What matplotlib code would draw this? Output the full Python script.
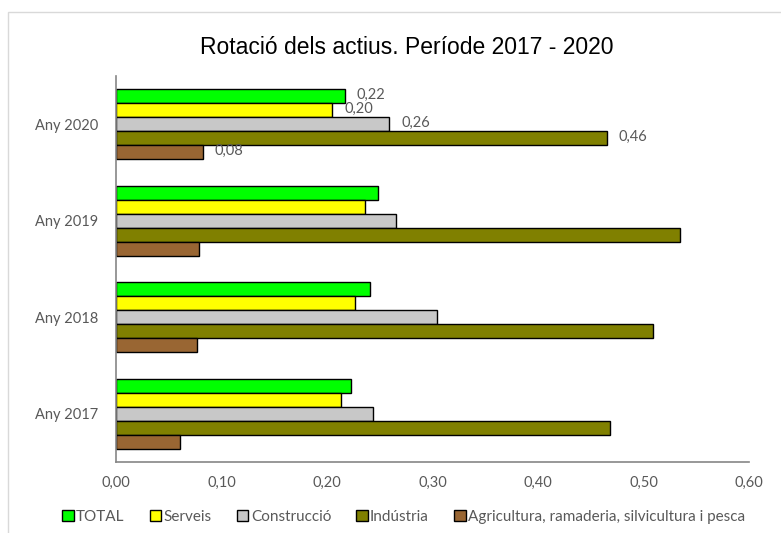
import numpy as np
import matplotlib
matplotlib.use("Agg")
from matplotlib import pyplot as plt, patches as mpatches

years = ["Any 2017", "Any 2018", "Any 2019", "Any 2020"]
series = ["TOTAL", "Serveis", "Construcció", "Indústria",
          "Agricultura, ramaderia, silvicultura i pesca"]
total = [0.223, 0.241, 0.248, 0.217]
serveis = [0.213, 0.227, 0.236, 0.205]
construccio = [0.244, 0.304, 0.265, 0.259]
industria = [0.468, 0.509, 0.535, 0.465]
agricultura = [0.061, 0.077, 0.079, 0.082]
labels_2020 = ["0,22", "0,20", "0,26", "0,46", "0,08"]
xticks = [0.0, 0.1, 0.2, 0.3, 0.4, 0.5, 0.6]

colors = ["#00FF00", "#FFFF00", "#C8C8C8", "#808000", "#996633"]
txt = "#595959"

plt.rcParams["font.family"] = ["Lato", "DejaVu Sans"]

fig = plt.figure(figsize=(7.81, 5.33), dpi=100)
# chart border
fig.patches.append(mpatches.Rectangle((8 / 781, -0.1), 1.2, 1.1 - 12 / 533,
                                      transform=fig.transFigure, fill=False,
                                      edgecolor="#D9D9D9", linewidth=1))
ax = fig.add_axes([116 / 781, 1 - 462 / 533, (749 - 116) / 781, (462 - 76) / 533])

values = [total, serveis, construccio, industria, agricultura]
h = 0.145
y = np.arange(len(years))
for k, vals in enumerate(values):
    pos = y + (2 - k) * h
    ax.barh(pos, vals, height=h, color=colors[k], edgecolor="black",
            linewidth=1, label=series[k])
    # labels only on last year
    ax.annotate(labels_2020[k], (vals[-1], pos[-1]), xytext=(8.5, 1),
                textcoords="offset points", va="center", ha="left",
                fontsize=10.5, color=txt)

ax.set_xlim(0, 0.6)
ax.set_ylim(-0.5, len(years) - 0.5)
ax.set_yticks(y)
ax.set_yticklabels(years)
ax.set_xticks(xticks)
ax.set_xticklabels([f"{v:.2f}".replace(".", ",") for v in xticks])
ax.tick_params(length=0, labelsize=10.5, colors=txt)
ax.tick_params(axis="x", pad=10)
ax.tick_params(axis="y", pad=13)
for s in ["top", "right"]:
    ax.spines[s].set_visible(False)
for s in ["left", "bottom"]:
    ax.spines[s].set_color("#868686")
    ax.spines[s].set_linewidth(1.2)

fig.text(0.521, 1 - 48 / 533, "Rotació dels actius. Període 2017 - 2020",
         ha="center", va="center", fontsize=16.5, family="Liberation Sans", color="black")

handles = [mpatches.Patch(facecolor=c, edgecolor="black", linewidth=1, label=s)
           for c, s in zip(colors, series)]
fig.legend(handles=handles, loc="center", bbox_to_anchor=(0.517, 1 - 517 / 533), ncol=5,
           frameon=False, fontsize=11, labelcolor=txt, handlelength=0.75,
           handleheight=0.75, handletextpad=0.15, columnspacing=1.65)

plt.savefig("out.png", dpi=100)
